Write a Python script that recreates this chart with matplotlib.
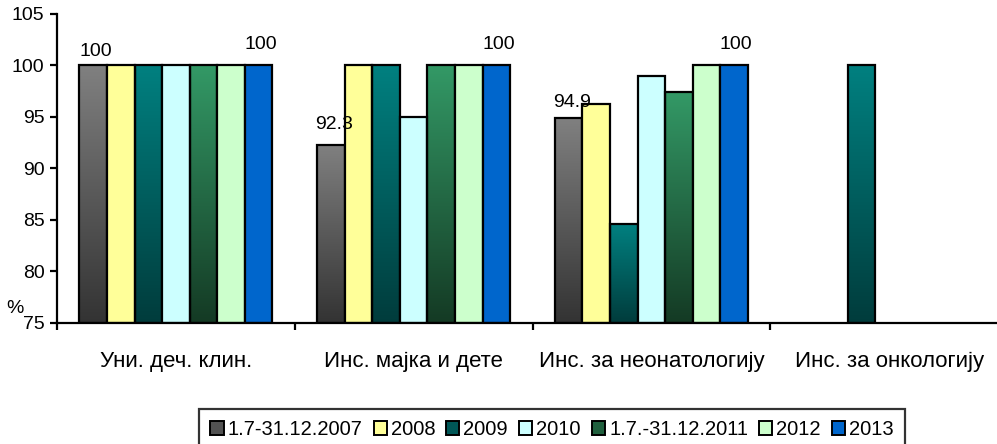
import numpy as np
import matplotlib
matplotlib.use("Agg")
import matplotlib.pyplot as plt
from matplotlib.colors import LinearSegmentedColormap
from matplotlib.patches import Rectangle

plt.rcParams['font.family'] = ['Liberation Sans', 'DejaVu Sans']

categories = ["Уни. деч. клин.", "Инс. мајка и дете", "Инс. за неонатологију", "Инс. за онкологију"]
series_names = ["1.7-31.12.2007", "2008", "2009", "2010", "1.7.-31.12.2011", "2012", "2013"]
values = [
    [100, 92.3, 94.9, np.nan],   # 1.7-31.12.2007
    [100, 100, 96.3, np.nan],    # 2008
    [100, 100, 84.6, 100],       # 2009
    [100, 95.0, 99.0, np.nan],   # 2010
    [100, 100, 97.4, np.nan],    # 1.7.-31.12.2011
    [100, 100, 100, np.nan],     # 2012
    [100, 100, 100, np.nan],     # 2013
]
# (top colour, bottom colour) ; identical = flat fill
colors = [
    ("#808080", "#333333"),
    ("#FFFF99", "#FFFF99"),
    ("#008080", "#003C3C"),
    ("#CCFFFF", "#CCFFFF"),
    ("#339966", "#143A24"),
    ("#CCFFCC", "#CCFFCC"),
    ("#0066CC", "#0066CC"),
]
labels_series = [0, 6]
# label offsets above bar top (pixels), per labelled series and category
label_offsets = {0: [14, 20, 16, 14], 6: [21, 21, 21, 21]}
yticks = [75, 80, 85, 90, 95, 100, 105]

fig = plt.figure(figsize=(9.97, 4.44), dpi=100)
ax = fig.add_axes([57/997, 121/444, 951/997, 309/444])
ax.set_xlim(-0.5, 3.5)
ax.set_ylim(75, 105)

n = len(series_names)
bw = 0.116
x = np.arange(len(categories))
ymin = 75
for i in range(n):
    vals = np.array(values[i], dtype=float)
    heights = np.nan_to_num(vals - ymin, nan=0.0)
    pos = x + (i - (n - 1) / 2) * bw
    top, bot = colors[i]
    bars = ax.bar(pos, heights, bw, bottom=ymin, facecolor=top if top == bot else 'none',
                  edgecolor='black', linewidth=1.6, zorder=3)
    for b, v in zip(bars, vals):
        if np.isnan(v):
            b.set_visible(False)
            continue
        if top != bot:
            cmap = LinearSegmentedColormap.from_list('g', [bot, top])
            grad = np.linspace(0, 1, 256).reshape(-1, 1)
            ax.imshow(grad, cmap=cmap, origin='lower', aspect='auto',
                      extent=[b.get_x(), b.get_x() + b.get_width(), ymin, ymin + b.get_height()],
                      zorder=2, interpolation='bilinear')
    if i in labels_series:
        for k, (b, v) in enumerate(zip(bars, vals)):
            if np.isnan(v):
                continue
            ax.annotate(f"{v:g}", (b.get_x() + b.get_width() / 2, v),
                        xytext=(3 if i == 0 else 2, label_offsets[i][k]),
                        textcoords='offset pixels', ha='center', va='center', fontsize=14, zorder=5)

ax.set_xlim(-0.5, 3.5)
ax.set_ylim(75, 105)

for s in ['top', 'right']:
    ax.spines[s].set_visible(False)
for s in ['left', 'bottom']:
    ax.spines[s].set_linewidth(1.6)
    ax.spines[s].set_zorder(6)

ax.set_yticks(yticks)
ax.set_yticklabels([str(t) for t in yticks], fontsize=14)
ax.tick_params(axis='y', direction='out', length=5, width=1.6, pad=4)

ax.set_xticks(np.arange(len(categories) + 1) - 0.5)
ax.set_xticklabels([])
ax.tick_params(axis='x', which='major', direction='out', length=5, width=1.6)
ax.set_xticks(x, minor=True)
ax.set_xticklabels(categories, minor=True, fontsize=16)
ax.tick_params(axis='x', which='minor', length=0, pad=20)

fig.text(15/997, 1 - 308/444, "%", fontsize=14, ha='center', va='center')

mid = []
for c in colors:
    if c[0] == c[1]:
        mid.append(c[0])
    else:
        a = np.array(matplotlib.colors.to_rgb(c[0])); b_ = np.array(matplotlib.colors.to_rgb(c[1]))
        mid.append(tuple(0.4 * a + 0.6 * b_))
handles = [Rectangle((0, 0), 1, 1, facecolor=m, edgecolor='black', linewidth=1.4) for m in mid]
leg = fig.legend(handles, series_names, loc='upper center', bbox_to_anchor=(552/997, 1 - 409/444),
                 ncol=7, fontsize=14.5, frameon=True, fancybox=False, edgecolor='black',
                 handlelength=0.65, handleheight=0.65, handletextpad=0.2, columnspacing=0.55,
                 borderpad=0.55, borderaxespad=0)
leg.get_frame().set_linewidth(1.6)

fig.savefig("out.png", dpi=100)
